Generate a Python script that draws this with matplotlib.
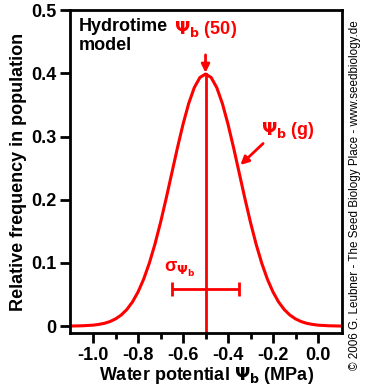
import matplotlib.pyplot as plt

# water potential (MPa) and relative frequency
psi = [-1.1, -1.05, -1.0, -0.975, -0.95, -0.925, -0.9, -0.875, -0.85, -0.825,
       -0.8, -0.775, -0.75, -0.725, -0.7, -0.675, -0.65, -0.625, -0.6, -0.575,
       -0.55, -0.525, -0.5, -0.475, -0.45, -0.425, -0.4, -0.375, -0.35, -0.325,
       -0.3, -0.275, -0.25, -0.225, -0.2, -0.175, -0.15, -0.125, -0.1, -0.075,
       -0.05, -0.025, 0.0, 0.05, 0.1]
freq = [0.0001, 0.0005, 0.0015, 0.0027, 0.0044, 0.0072, 0.0114, 0.0175, 0.0262, 0.0381,
        0.054, 0.0743, 0.0995, 0.1295, 0.164, 0.202, 0.242, 0.2819, 0.3194, 0.3521,
        0.3774, 0.3934, 0.3989, 0.3934, 0.3774, 0.3521, 0.3194, 0.2819, 0.242, 0.202,
        0.164, 0.1295, 0.0995, 0.0743, 0.054, 0.0381, 0.0262, 0.0175, 0.0114, 0.0072,
        0.0044, 0.0027, 0.0015, 0.0005, 0.0001]
psi50 = -0.5
peak = 0.3989
sigma_lo, sigma_hi, sigma_y = -0.65, -0.35, 0.059

plt.rcParams['font.family'] = ['Liberation Sans', 'DejaVu Sans']
plt.rcParams['font.weight'] = 'bold'
plt.rcParams['mathtext.fontset'] = 'dejavusans'

red = '#ff0000'
fs = 13
fig = plt.figure(figsize=(3.69, 3.9), dpi=100)
ax = fig.add_axes([0.190, 0.146, 0.737, 0.828])

ax.plot(psi, freq, color=red, lw=2.2)
ax.plot([psi50, psi50], [-0.02, peak], color=red, lw=2, clip_on=True)
ax.errorbar([psi50], [sigma_y], xerr=[[psi50 - sigma_lo], [sigma_hi - psi50]],
            color=red, lw=2, capsize=5, capthick=2)

ax.set_xlim(-1.102, 0.107)
ax.set_ylim(-0.011, 0.5)
ax.set_xticks([-1.0, -0.8, -0.6, -0.4, -0.2, 0.0])
ax.set_xticklabels(['-1.0', '-0.8', '-0.6', '-0.4', '-0.2', '0.0'])
ax.set_xticks([-0.9, -0.7, -0.5, -0.3, -0.1], minor=True)
ax.set_yticks([0, 0.1, 0.2, 0.3, 0.4, 0.5])
ax.set_yticklabels(['0', '0.1', '0.2', '0.3', '0.4', '0.5'])
ax.tick_params(direction='out', width=2, length=7, labelsize=fs, pad=3)
ax.tick_params(which='minor', direction='out', width=2, length=4)
for s in ax.spines.values():
    s.set_linewidth(2)
for lab in ax.get_xticklabels() + ax.get_yticklabels():
    lab.set_fontweight('bold')

ax.set_xlabel(r'Water potential $\Psi_\mathbf{b}$ (MPa)', fontsize=fs, fontweight='bold', labelpad=1)
ax.set_ylabel('Relative frequency in population', fontsize=fs, fontweight='bold', labelpad=3)

ax.text(0.03, 0.975, 'Hydrotime\nmodel', transform=ax.transAxes, ha='left', va='top',
        fontsize=fs, fontweight='bold', linespacing=1.15)
ax.annotate(r'$\Psi_\mathbf{b}$ (50)', xy=(psi50, peak + 0.002), xytext=(psi50, 0.47),
            ha='center', va='center', color=red, fontsize=fs, fontweight='bold',
            arrowprops=dict(arrowstyle='-|>', color=red, lw=2, mutation_scale=12,
                            shrinkA=9, shrinkB=0))
ax.annotate(r'$\Psi_\mathbf{b}$ (g)', xy=(-0.345, 0.255), xytext=(-0.255, 0.31),
            ha='left', va='center', color=red, fontsize=fs, fontweight='bold',
            arrowprops=dict(arrowstyle='-|>', color=red, lw=2, mutation_scale=12,
                            shrinkA=0, shrinkB=0, relpos=(0.1, 0.0)))
ax.text(-0.685, 0.09, '\u03c3' + r'$_{\Psi_\mathbf{b}}$', ha='left', va='center',
        color=red, fontsize=fs, fontweight='bold')

fig.text(0.962, 0.5, '\u00a9 2006 G. Leubner - The Seed Biology Place - www.seedbiology.de',
         rotation=90, ha='center', va='center', fontsize=8.4, fontweight='normal')

fig.savefig('out.png', dpi=100)
